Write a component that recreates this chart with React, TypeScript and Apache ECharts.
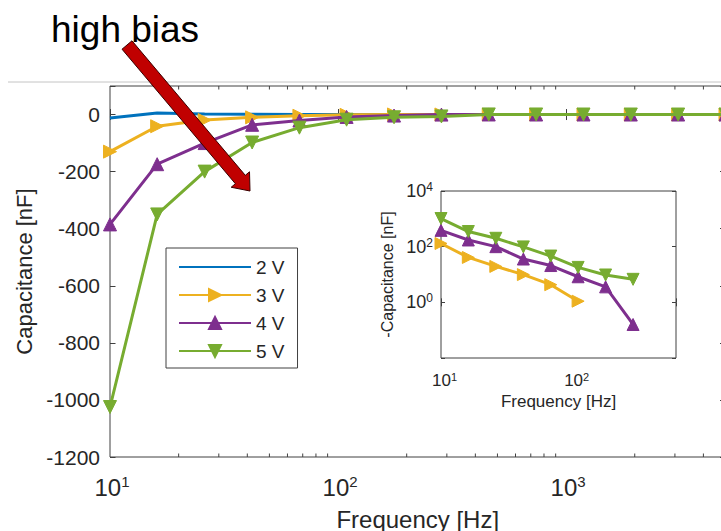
import React, { useEffect, useRef } from 'react';
import * as echarts from 'echarts';

// ---- data ----
const frequencies = [10, 16.1, 26.0, 42.0, 67.7, 109, 176, 284, 458, 739, 1192, 1922, 3100, 5000];
const cap2V = [-12, 5, 2, 1, 0.5, 0.3, 0.2, 0.1, 0.1, 0.05, 0.05, 0.05, 0.05, 0.05];
const cap3V = [-130, -41, -19.5, -9.9, -4.3, -1.1, 0.3, 0.2, 0.1, 0.1, 0.05, 0.05, 0.05, 0.05];
const cap4V = [-385, -174, -100, -36, -21, -8.3, -3.6, -0.16, 0.2, 0.1, 0.1, 0.05, 0.05, 0.05];
const cap5V = [-1025, -350, -200, -98, -46, -18, -9.6, -6.7, 0.3, 0.2, 0.1, 0.1, 0.05, 0.05];
const seriesNames = ['2 V', '3 V', '4 V', '5 V'];
const seriesValues = [cap2V, cap3V, cap4V, cap5V];
const seriesColors = ['#0072BD', '#EDB120', '#7E2F8E', '#77AC30'];

const mainYMin = -1200;
const mainYMax = 100;
const mainYStep = 200;
const mainXMin = 10;
const mainXMax = 5000;
const mainMinorTicks = [20, 30, 40, 50, 60, 70, 80, 90, 200, 300, 400, 500, 600, 700, 800, 900, 2000, 3000, 4000];

const insetXMin = 10;
const insetXMax = 600;
const insetYMinExp = -2;
const insetYMaxExp = 4;
const insetYStepExp = 2;
const insetMinorTicks = [20, 30, 40, 50, 60, 70, 80, 90, 200, 300, 400, 500];

const annotationText = 'high bias';

// ---- styling ----
const FF = 'Liberation Sans, Arial, Helvetica, sans-serif';
const AX = '#404040';
const TXT = '#262626';

function powLabel(v: number) {
  const e = Math.log10(v);
  const r = Math.round(e);
  return Math.abs(e - r) < 1e-6 ? `{b|10}{s|${r}}` : '';
}

function minorTickSeries(gridIdx: number, xAxisIndex: number, yAxisIndex: number, ticks: number[], yVal: number, len: number) {
  return {
    type: 'custom',
    name: 'minor' + gridIdx,
    xAxisIndex,
    yAxisIndex,
    silent: true,
    data: ticks.map((f) => [f, yVal]),
    renderItem: (params: any, api: any) => {
      const x = api.coord([api.value(0), yVal])[0];
      const cs = params.coordSys;
      const bottom = cs.y + cs.height;
      return {
        type: 'group',
        children: [
          { type: 'line', shape: { x1: x, y1: bottom, x2: x, y2: bottom - len }, style: { stroke: AX, lineWidth: 1 } },
          { type: 'line', shape: { x1: x, y1: cs.y, x2: x, y2: cs.y + len }, style: { stroke: AX, lineWidth: 1 } },
        ],
      };
    },
    z: 1,
  };
}

function arrowPoints() {
  const T = [127, 45];
  const P = [250, 191];
  const dx = P[0] - T[0];
  const dy = P[1] - T[1];
  const L = Math.hypot(dx, dy);
  const u = [dx / L, dy / L];
  const n = [-u[1], u[0]];
  const headLen = 15;
  const headHalf = 12;
  const shaftHalf = 6.5;
  const B = [P[0] - u[0] * headLen, P[1] - u[1] * headLen];
  const pt = (base: number[], s: number) => [base[0] + n[0] * s, base[1] + n[1] * s];
  return [pt(T, shaftHalf), pt(B, shaftHalf), pt(B, headHalf), P, pt(B, -headHalf), pt(B, -shaftHalf), pt(T, -shaftHalf)];
}

function buildOption() {
  const symbols = ['none', 'triangle', 'triangle', 'triangle'];
  const rotations = [0, -90, 0, 180];

  const mainSeries = seriesNames.map((name, i) => ({
    name,
    type: 'line',
    xAxisIndex: 0,
    yAxisIndex: 0,
    data: frequencies.map((f, k) => [f, seriesValues[i][k]]),
    symbol: symbols[i],
    symbolSize: 13,
    symbolRotate: rotations[i],
    showSymbol: i !== 0,
    lineStyle: { width: 3, color: seriesColors[i] },
    itemStyle: { color: seriesColors[i], borderColor: seriesColors[i], borderWidth: 1 },
    z: 3 + i,
  }));

  const insetSeries = seriesNames.slice(1).map((name, j) => {
    const i = j + 1;
    const pts: number[][] = [];
    frequencies.forEach((f, k) => {
      const m = -seriesValues[i][k];
      if (m > 0) pts.push([f, Math.log10(m)]);
    });
    return {
      name,
      type: 'line',
      xAxisIndex: 2,
      yAxisIndex: 2,
      data: pts,
      symbol: symbols[i],
      symbolSize: 12,
      symbolRotate: rotations[i],
      lineStyle: { width: 3, color: seriesColors[i] },
      itemStyle: { color: seriesColors[i], borderColor: seriesColors[i], borderWidth: 1 },
      z: 10 + i,
    };
  });

  const richMainX = {
    b: { fontSize: 24, lineHeight: 26, fontFamily: FF, color: TXT, padding: [0, 0, 0, 4] },
    s: { fontSize: 15, lineHeight: 15, verticalAlign: 'top', fontFamily: FF, color: TXT },
  };
  const richInset = {
    b: { fontSize: 18, lineHeight: 20, fontFamily: FF, color: TXT },
    s: { fontSize: 12, lineHeight: 12, verticalAlign: 'top', fontFamily: FF, color: TXT },
  };
  const richInsetX = {
    b: { fontSize: 17, lineHeight: 17, fontFamily: FF, color: TXT, padding: [0, 0, 0, 7] },
    s: { fontSize: 11, lineHeight: 11, verticalAlign: 'top', fontFamily: FF, color: TXT },
  };

  const tickMain = { show: true, inside: true, length: 5.5, lineStyle: { color: AX, width: 1 } };
  const tickInset = { show: true, inside: true, length: 4, lineStyle: { color: AX, width: 1 } };

  const legendData = seriesNames.map((name, i) =>
    i === 0
      ? { name, itemStyle: { color: 'transparent', borderColor: 'transparent', borderWidth: 0, opacity: 0 } }
      : { name }
  );

  return {
    animation: false,
    backgroundColor: '#ffffff',
    textStyle: { fontFamily: FF },
    grid: [
      { left: 110, top: 86, width: 615.5, height: 371, show: true, borderColor: AX, borderWidth: 1, backgroundColor: 'transparent', containLabel: false, outerBoundsMode: 'none' },
      { left: 441, top: 191, width: 235, height: 167, show: true, borderColor: AX, borderWidth: 1, backgroundColor: '#ffffff', containLabel: false, outerBoundsMode: 'none', z: 8 },
    ],
    xAxis: [
      {
        type: 'log', gridIndex: 0, position: 'bottom', min: mainXMin, max: mainXMax, logBase: 10,
        axisLine: { show: false }, splitLine: { show: false }, minorTick: { show: false },
        axisTick: tickMain,
        axisLabel: { margin: 17, formatter: powLabel, rich: richMainX, color: TXT },
        name: 'Frequency [Hz]', nameLocation: 'middle', nameGap: 50, nameMoveOverlap: false,
        nameTextStyle: { fontSize: 24, fontFamily: FF, color: TXT },
      },
      {
        type: 'log', gridIndex: 0, position: 'top', min: mainXMin, max: mainXMax, logBase: 10,
        axisLine: { show: false }, splitLine: { show: false }, axisTick: tickMain, axisLabel: { show: false },
      },
      {
        type: 'log', gridIndex: 1, position: 'bottom', min: insetXMin, max: insetXMax, logBase: 10,
        axisLine: { show: false }, splitLine: { show: false }, axisTick: tickInset,
        axisLabel: { margin: 13.5, formatter: powLabel, rich: richInsetX, color: TXT },
        name: 'Frequency [Hz]', nameLocation: 'middle', nameGap: 35, nameMoveOverlap: false,
        nameTextStyle: { fontSize: 17, lineHeight: 16, fontFamily: FF, color: TXT },
        z: 9,
      },
      {
        type: 'log', gridIndex: 1, position: 'top', min: insetXMin, max: insetXMax, logBase: 10,
        axisLine: { show: false }, splitLine: { show: false }, axisTick: tickInset, axisLabel: { show: false }, z: 9,
      },
    ],
    yAxis: [
      {
        type: 'value', gridIndex: 0, position: 'left', min: mainYMin, max: mainYMax, interval: mainYStep,
        axisLine: { show: false }, splitLine: { show: false }, axisTick: tickMain,
        axisLabel: {
          margin: 10, fontSize: 21, fontFamily: FF, color: TXT,
          formatter: (v: number) => (v > 0 ? '' : String(v)),
        },
        name: 'Capacitance [nF]', nameLocation: 'middle', nameGap: 75, nameMoveOverlap: false,
        nameTextStyle: { fontSize: 22, fontFamily: FF, color: TXT },
      },
      {
        type: 'value', gridIndex: 0, position: 'right', min: mainYMin, max: mainYMax, interval: mainYStep,
        axisLine: { show: false }, splitLine: { show: false }, axisTick: tickMain, axisLabel: { show: false },
      },
      {
        type: 'value', gridIndex: 1, position: 'left', min: insetYMinExp, max: insetYMaxExp, interval: insetYStepExp,
        axisLine: { show: false }, splitLine: { show: false }, axisTick: tickInset,
        axisLabel: {
          margin: 8, color: TXT, rich: richInset,
          formatter: (v: number) => (v === insetYMinExp ? '' : `{b|10}{s|${v}}`),
        },
        name: '-Capacitance [nF]', nameLocation: 'middle', nameGap: 46, nameMoveOverlap: false,
        nameTextStyle: { fontSize: 16, fontFamily: FF, color: TXT },
        z: 9,
      },
      {
        type: 'value', gridIndex: 1, position: 'right', min: insetYMinExp, max: insetYMaxExp, interval: insetYStepExp,
        axisLine: { show: false }, splitLine: { show: false }, axisTick: tickInset, axisLabel: { show: false }, z: 9,
      },
    ],
    legend: {
      data: legendData,
      orient: 'vertical',
      left: 166,
      top: 248,
      itemWidth: 72,
      itemHeight: 15,
      itemGap: 8,
      padding: [9, 13, 7, 12],
      borderColor: AX,
      borderWidth: 1,
      borderRadius: 0,
      backgroundColor: '#ffffff',
      selectedMode: false,
      textStyle: { fontSize: 19, fontFamily: FF, color: TXT, lineHeight: 20 },
      z: 20,
    },
    graphic: [
      { type: 'line', shape: { x1: 8, y1: 82, x2: 721, y2: 82 }, style: { stroke: '#c4c4c4', lineWidth: 1 }, z: 0, silent: true },
      {
        type: 'text', x: 51, y: 29, z: 50, silent: true,
        style: { text: annotationText, fontSize: 37, fontFamily: FF, fill: '#000000', verticalAlign: 'middle', align: 'left' },
      },
      {
        type: 'polygon', z: 60, silent: true,
        shape: { points: arrowPoints() },
        style: { fill: '#C00000', stroke: '#3a0000', lineWidth: 1 },
      },
    ],
    series: [
      ...mainSeries,
      minorTickSeries(0, 0, 0, mainMinorTicks, 0, 3.5),
      ...insetSeries,
      minorTickSeries(1, 2, 2, insetMinorTicks, 0, 2.5),
    ],
  };
}

export default function App() {
  const ref = useRef<HTMLDivElement>(null);
  useEffect(() => {
    if (!ref.current) return;
    const chart = echarts.init(ref.current, null, { renderer: 'svg' });
    chart.setOption(buildOption() as any);
    return () => chart.dispose();
  }, []);
  return (
    <div
      ref={ref}
      style={{ position: 'fixed', left: 0, top: 0, width: 721, height: 531, background: '#ffffff' }}
    />
  );
}
